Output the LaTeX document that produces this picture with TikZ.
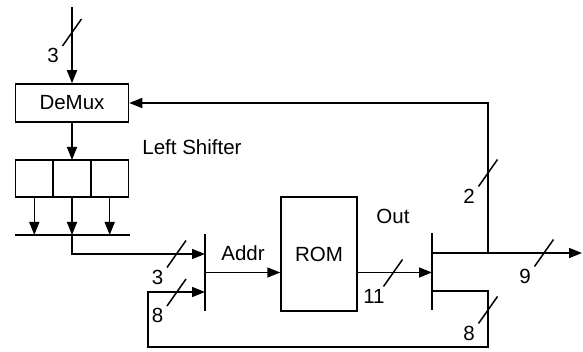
\documentclass[tikz,border=0pt]{standalone}
\usepackage{fontspec}
\setmainfont{Liberation Sans}
\usetikzlibrary{arrows.meta,positioning}
\tikzset{
  wire/.style={line width=1.5pt},
  flow/.style={-{Triangle[length=13pt,width=10pt]},line width=1.5pt},
  block/.style={draw,line width=1.5pt,minimum width=113pt,minimum height=38pt,
    inner sep=0pt,font=\fontsize{20.5}{22}\selectfont},
  cell/.style={draw,line width=1.5pt,minimum width=37.7pt,minimum height=37pt,
    inner sep=0pt,outer sep=0pt},
  bar/.style={minimum width=0pt,minimum height=77pt,inner sep=0pt},
  tag/.style={font=\fontsize{20.5}{22}\selectfont,inner sep=0pt},
  buswidth/.pic={
    \draw[wire] (-9.5,13.5) -- (9.5,-13.5);
    \node[tag] at (-19,23) {#1};
  }
}
\begin{document}
\begin{tikzpicture}[x=1pt,y=-1pt]
  \useasboundingbox (0,0) rectangle (583,352);
  % blocks
  \node[block] (demux) at (72,103) {DeMux};
  \node[cell] (cellB) at (72,178.5) {};
  \node[cell,left=0pt of cellB] (cellA) {};
  \node[cell,right=0pt of cellB] (cellC) {};
  \node[tag] (shiftlabel) at (192,147) {Left Shifter};
  \node[bar] (amux) at (205,272.5) {};
  \node[bar] (omux) at (432,271.5) {};
  \node[block,minimum width=76pt,minimum height=114pt] (rom) at (319,254) {ROM};
  \node[tag] (addrlabel) at (243,253) {Addr};
  \node[tag] (outlabel) at (393,216) {Out};
  \draw[line width=1.6pt] (amux.north) -- (amux.south);
  \draw[line width=1.6pt] (omux.north) -- (omux.south);
  % points
  \coordinate (in) at (72,7);
  \coordinate (busL) at (15,235);
  \coordinate (busR) at (130,235);
  \coordinate (selA) at (205,254);
  \coordinate (selB) at (205,292);
  \coordinate (keepout) at (432,291);
  \coordinate (loopR) at (488,347);
  \coordinate (loopL) at (148,347);
  \coordinate (tap) at (488,253);
  \coordinate (out) at (582,253);
  % connectors
  \draw[flow] (in) -- (demux.north);
  \draw[flow] (demux.south) -- (cellB.north);
  \draw[wire] (busL) -- (busR);
  \foreach \c in {cellA,cellB,cellC}
    \draw[flow] (\c.south) -- (\c.south |- busL);
  \draw[flow] (cellB.south |- busL) |- (selA);
  \draw[flow] (amux) -- (amux -| rom.west);
  \draw[flow] (rom.east |- amux) -- (omux |- amux);
  \draw[flow] (omux |- tap) -- (out);
  \draw[flow] (tap) |- (demux.east);
  \draw[flow] (keepout) -| (loopR) -- (loopL) |- (selB);
  % bus widths
  \pic at (72,32.5) {buswidth=3};
  \pic at (176.5,254) {buswidth=3};
  \pic at (176.5,292.5) {buswidth=8};
  \pic at (393,273) {buswidth=11};
  \pic at (544,253) {buswidth=9};
  \pic at (488,173) {buswidth=2};
  \pic at (488,310) {buswidth=8};
\end{tikzpicture}
\end{document}
